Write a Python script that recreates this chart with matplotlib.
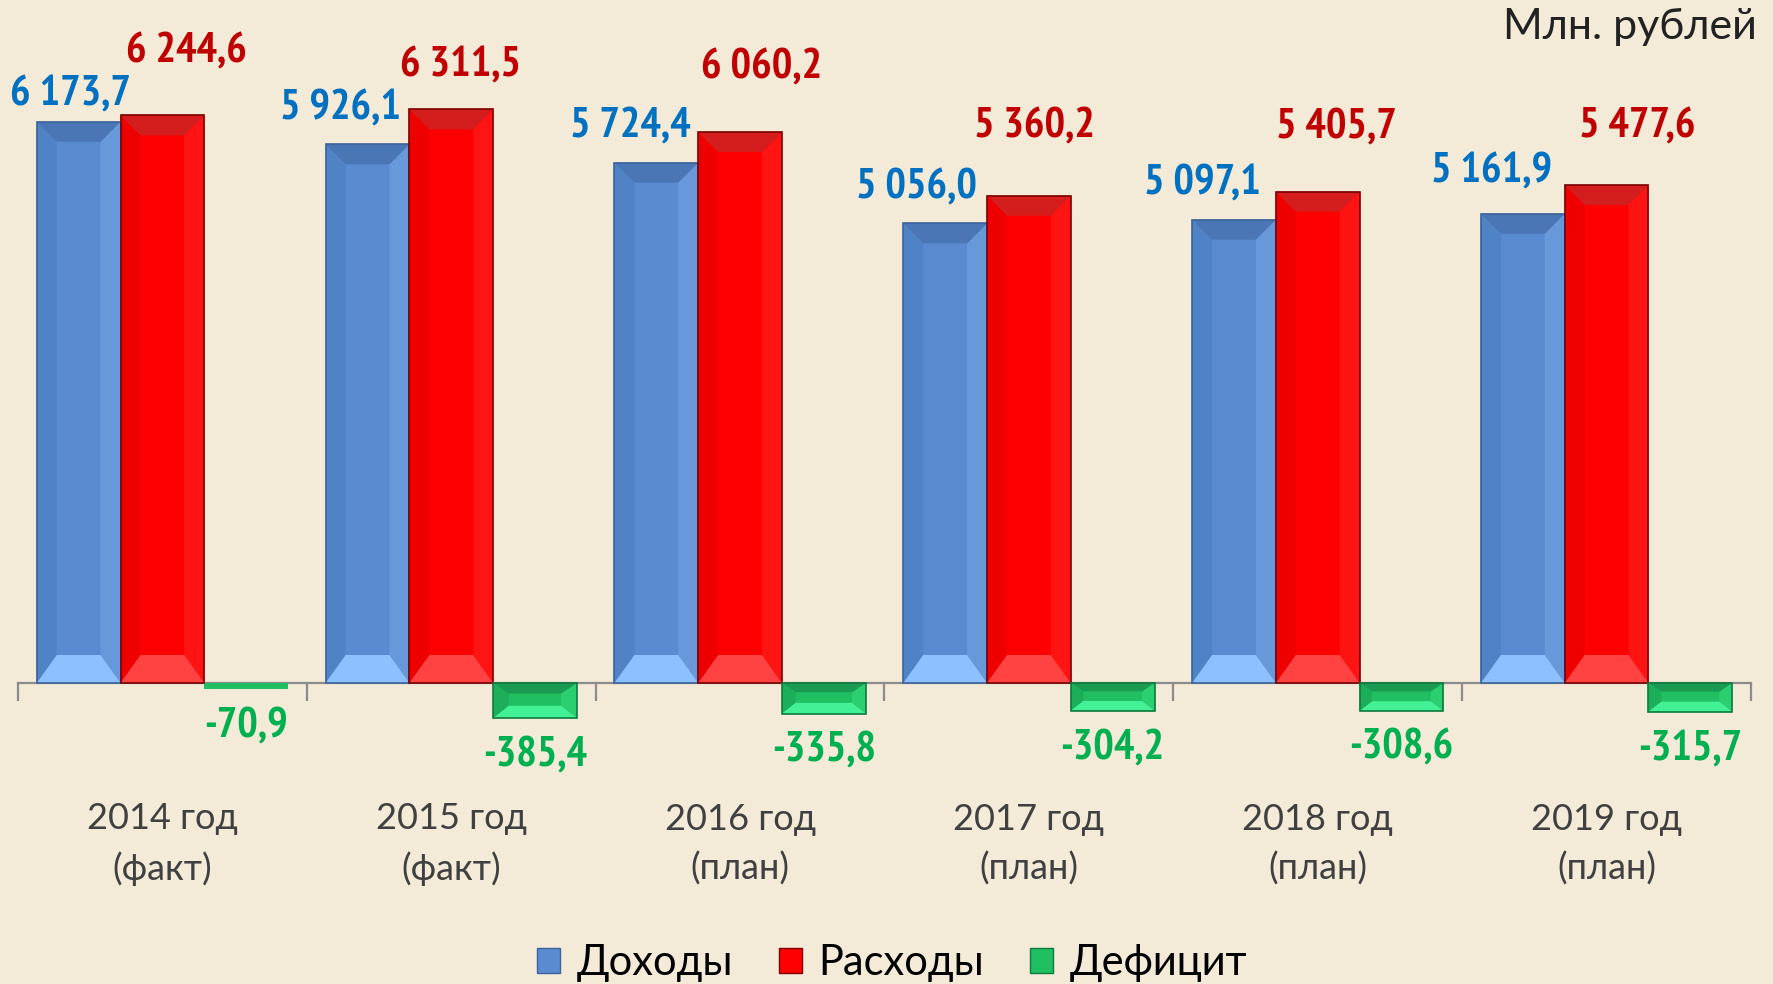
import os

os.environ.setdefault("MPLCONFIGDIR", "/tmp/matplotlib")

import matplotlib

matplotlib.use("Agg")
import matplotlib.pyplot as plt
from matplotlib.patches import Patch, Polygon
from matplotlib.transforms import blended_transform_factory


# ---- data ----
YEARS = ["2014 год\n(факт)", "2015 год\n(факт)", "2016 год\n(план)",
         "2017 год\n(план)", "2018 год\n(план)", "2019 год\n(план)"]
INCOME = [6173.7, 5926.1, 5724.4, 5056.0, 5097.1, 5161.9]
EXPENSE = [6244.6, 6311.5, 6060.2, 5360.2, 5405.7, 5477.6]
DEFICIT = [-70.9, -385.4, -335.8, -304.2, -308.6, -315.7]
SERIES_NAMES = ["Доходы", "Расходы", "Дефицит"]
UNIT_LABEL = "Млн. рублей"

# label nudges in pixels (x, distance from bar end), as placed on the slide
INCOME_LABEL_PX = [(-8, 27), (-27, 35), (-26, 37), (-29, 35), (-32, 37), (-31, 42)]
EXPENSE_LABEL_PX = [(24, 63), (9, 43), (21, 64), (6, 69), (19, 65), (31, 58)]
DEFICIT_LABEL_PX = [(0, 37)] * 6

W_PX, H_PX, DPI = 1773, 984, 100
BG = "#F3EAD8"
BASE_PX = 683          # y pixel of the zero line
PX_PER_UNIT = 0.0909   # vertical pixels per million roubles
AX_LEFT_PX, AX_RIGHT_PX = 18, 1751

STYLES = {
    "income": dict(main="#5A8BD0", top="#4A76B6", bottom="#8DC0FF",
                   left="#5082C6", right="#6798DA", edge="#3C629A",
                   text="#0070C0"),
    "expense": dict(main="#FF0000", top="#D41E1E", bottom="#FF4343",
                    left="#EE0000", right="#FF1414", edge="#7A0000",
                    text="#C00000"),
    "deficit": dict(main="#20C062", top="#1B9A52", bottom="#44F096",
                    left="#1CAE58", right="#2CCF70", edge="#0E7A3E",
                    text="#00B050"),
}

LABEL_FONT = ["Liberation Sans Narrow", "PT Sans Narrow", "Archivo Narrow",
              "Roboto Condensed", "Liberation Sans"]
TEXT_FONT = ["Lato", "DejaVu Sans"]


def bevel(ax, patch, st, side_px=20, top_px=20, bot_px=28):
    """Fake Excel 'angle' bevel: four shaded faces over a flat bar."""
    x0 = patch.get_x()
    x1 = x0 + patch.get_width()
    y_a, y_b = patch.get_y(), patch.get_y() + patch.get_height()
    ylo, yhi = min(y_a, y_b), max(y_a, y_b)
    h_px = (yhi - ylo) * PX_PER_UNIT
    if h_px < 12:
        return
    t_px = min(top_px, h_px * 0.3)
    b_px = min(bot_px, h_px * 0.35)
    x_per_px = 6.0 / (AX_RIGHT_PX - AX_LEFT_PX)
    dx = min(side_px, h_px * 0.45) * x_per_px
    ty, by = t_px / PX_PER_UNIT, b_px / PX_PER_UNIT
    faces = [
        ([(x0, yhi), (x0 + dx, yhi - ty), (x0 + dx, ylo + by), (x0, ylo)], st["left"]),
        ([(x1, yhi), (x1 - dx, yhi - ty), (x1 - dx, ylo + by), (x1, ylo)], st["right"]),
        ([(x0, yhi), (x1, yhi), (x1 - dx, yhi - ty), (x0 + dx, yhi - ty)], st["top"]),
        ([(x0, ylo), (x1, ylo), (x1 - dx, ylo + by), (x0 + dx, ylo + by)], st["bottom"]),
    ]
    for pts, col in faces:
        ax.add_patch(Polygon(pts, closed=True, facecolor=col, edgecolor="none",
                             zorder=patch.get_zorder() + 0.1))
    ax.add_patch(plt.Rectangle((x0, ylo), x1 - x0, yhi - ylo, facecolor="none",
                               edgecolor=st["edge"], linewidth=1.2,
                               zorder=patch.get_zorder() + 0.2))


fig = plt.figure(figsize=(W_PX / DPI, H_PX / DPI), dpi=DPI, facecolor=BG)
ax = fig.add_axes([AX_LEFT_PX / W_PX, 0, (AX_RIGHT_PX - AX_LEFT_PX) / W_PX, 1])
ax.set_facecolor("none")

n = len(YEARS)
xs = list(range(n))
ax.set_xlim(-0.5, n - 0.5)
ax.set_ylim(-(H_PX - BASE_PX) / PX_PER_UNIT, BASE_PX / PX_PER_UNIT)

width = 0.29
groups = [
    (INCOME, -width, "income", INCOME_LABEL_PX),
    (EXPENSE, 0.0, "expense", EXPENSE_LABEL_PX),
    (DEFICIT, width, "deficit", DEFICIT_LABEL_PX),
]

for vals, off, key, nudges in groups:
    st = STYLES[key]
    bars = ax.bar([x + off for x in xs], vals, width=width, color=st["main"],
                  edgecolor="none", zorder=3)
    for bar, v, (nx, ny) in zip(bars, vals, nudges):
        bevel(ax, bar, st)
        cx = bar.get_x() + bar.get_width() / 2
        sign = 1 if v >= 0 else -1
        label = f"{v:,.1f}".replace(",", " ").replace(".", ",")
        ax.annotate(label, xy=(cx, v), xytext=(nx * 0.72, sign * ny * 0.72),
                    textcoords="offset points", ha="center", va="center",
                    fontsize=31, fontweight="bold", color=st["text"],
                    family=LABEL_FONT, zorder=5)

# zero line with boundary ticks
for s in ["top", "left", "right"]:
    ax.spines[s].set_visible(False)
ax.spines["bottom"].set_position(("data", 0))
ax.spines["bottom"].set_color("#8C8C8C")
ax.spines["bottom"].set_linewidth(1.6)
ax.spines["bottom"].set_zorder(2)
ax.set_xticks([x - 0.5 for x in range(n + 1)])
ax.tick_params(axis="x", length=13, width=1.6, color="#8C8C8C",
               labelbottom=False, direction="out")
ax.set_yticks([])

# category labels
trans = blended_transform_factory(ax.transData, fig.transFigure)
for x, lab in zip(xs, YEARS):
    ax.text(x, 1 - 844 / H_PX, lab, transform=trans, ha="center", va="center",
            fontsize=26, color="#404040", family=TEXT_FONT, linespacing=1.55)

fig.text(1757 / W_PX, 1 - 27 / H_PX, UNIT_LABEL, ha="right", va="center",
         fontsize=31, fontweight="normal", color="#222222", family=TEXT_FONT)

handles = [Patch(facecolor=STYLES[k]["main"], edgecolor=STYLES[k]["edge"])
           for k in ["income", "expense", "deficit"]]
fig.legend(handles, SERIES_NAMES, loc="center", ncol=3,
           bbox_to_anchor=(892 / W_PX, 1 - 963 / H_PX), frameon=False,
           prop={"family": TEXT_FONT, "size": 30},
           handlelength=0.55, handleheight=0.55, handletextpad=0.4,
           columnspacing=1.1, labelcolor="#000000")

fig.savefig("out.png", dpi=DPI, facecolor=BG)
